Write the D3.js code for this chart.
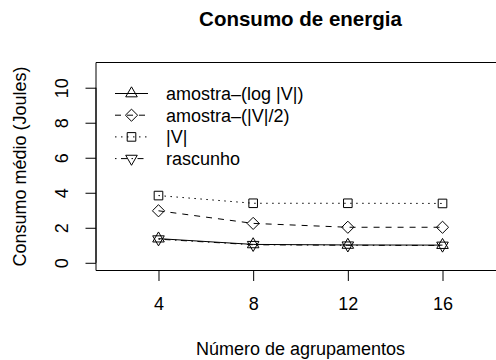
<!DOCTYPE html>
<html>
<head>
<meta charset="utf-8">
<script src="https://cdn.jsdelivr.net/npm/d3@7"></script>
<style>
  html, body { margin: 0; padding: 0; background: #fff; }
  svg { display: block; }
  text { font-family: "Liberation Sans", Arial, sans-serif; fill: #000; }
</style>
</head>
<body>
<svg id="chart" width="496" height="360"></svg>
<script>
// ---- data ----
const categories = [4, 8, 12, 16];
const seriesNames = ["amostra\u2013(log |V|)", "amostra\u2013(|V|/2)", "|V|", "rascunho"];
const serieLog = [1.38, 1.05, 1.02, 1.01];
const serieMetade = [2.97, 2.25, 2.03, 2.03];
const serieV = [3.84, 3.40, 3.40, 3.39];
const serieRascunho = [1.35, 1.03, 1.00, 0.99];
const xTicks = [4, 8, 12, 16];
const yTicks = [0, 2, 4, 6, 8, 10];
const title = "Consumo de energia";
const xLabel = "Número de agrupamentos";
const yLabel = "Consumo médio (Joules)";

const seriesValues = [serieLog, serieMetade, serieV, serieRascunho];
const dashes = [null, "6,6", "1.5,4.5", "1.5,4.5,6,4.5"];
const shapes = ["triUp", "diamond", "square", "triDown"];

const svg = d3.select("#chart");
const pLeft = 96, pTop = 62.5, pBottom = 270.5, pRight = 505;

const x = d3.scaleLinear().domain([1.36, 18.64]).range([pLeft, pRight]);
const y = d3.scaleLinear().domain([-0.44, 11.44]).range([pBottom, pTop]);

const fs = 18;
const S = 4.3; // symbol size unit

function symbolPath(shape, cx, cy) {
  if (shape === "square") {
    return `M${cx - S},${cy - S}H${cx + S}V${cy + S}H${cx - S}Z`;
  }
  if (shape === "diamond") {
    const d = Math.SQRT2 * S;
    return `M${cx},${cy - d}L${cx + d},${cy}L${cx},${cy + d}L${cx - d},${cy}Z`;
  }
  const r = 1.5551 * S, xc = 1.3468 * S, yc = 0.7776 * S;
  if (shape === "triUp") {
    return `M${cx},${cy - r}L${cx + xc},${cy + yc}L${cx - xc},${cy + yc}Z`;
  }
  return `M${cx},${cy + r}L${cx + xc},${cy - yc}L${cx - xc},${cy - yc}Z`;
}

// box (left, top, bottom; right side is outside the image)
svg.append("path")
  .attr("d", `M${pRight},${pTop}H${pLeft}V${pBottom}H${pRight}`)
  .attr("fill", "none").attr("stroke", "#000").attr("stroke-width", 1);

// x axis
const xAxis = d3.axisBottom(x).tickValues(xTicks).tickSize(10.5).tickPadding(0).tickFormat(d3.format("d"));
const gx = svg.append("g").attr("transform", `translate(0,${pBottom})`).call(xAxis);
gx.select(".domain").remove();
gx.selectAll(".tick line").attr("stroke", "#000");
gx.selectAll(".tick text").attr("font-size", fs).attr("font-family", "Liberation Sans, Arial, sans-serif")
  .attr("dy", null).attr("y", 39.5).attr("fill", "#000");

// y axis
const yAxis = d3.axisLeft(y).tickValues(yTicks).tickSize(10.5).tickPadding(0).tickFormat(d3.format("d"));
const gy = svg.append("g").attr("transform", `translate(${pLeft},0)`).call(yAxis);
gy.select(".domain").attr("d", `M0,${y(0)}V${y(10)}`).attr("stroke", "#000");
gy.selectAll(".tick line").attr("stroke", "#000");
gy.selectAll(".tick text")
  .attr("font-size", fs).attr("font-family", "Liberation Sans, Arial, sans-serif")
  .attr("x", null).attr("dy", null).attr("fill", "#000")
  .attr("text-anchor", "middle")
  .attr("transform", "translate(-28,0) rotate(-90)");

// titles
svg.append("text").attr("x", (pLeft + pRight) / 2).attr("y", 25.7)
  .attr("text-anchor", "middle").attr("font-size", 20.5).attr("font-weight", "bold").text(title);
svg.append("text").attr("x", (pLeft + pRight) / 2).attr("y", 355)
  .attr("text-anchor", "middle").attr("font-size", fs).text(xLabel);
svg.append("text").attr("transform", `translate(26,${(pTop + pBottom) / 2}) rotate(-90)`)
  .attr("text-anchor", "middle").attr("font-size", fs).text(yLabel);

// series
const line = d3.line().x((d, i) => x(categories[i])).y(d => y(d));
seriesValues.forEach((vals, k) => {
  svg.append("path").datum(vals).attr("d", line)
    .attr("fill", "none").attr("stroke", "#000").attr("stroke-width", 1)
    .attr("stroke-dasharray", dashes[k]);
  svg.append("g").selectAll("path").data(vals).join("path")
    .attr("d", (d, i) => symbolPath(shapes[k], x(categories[i]), y(d)))
    .attr("fill", "none").attr("stroke", "#000").attr("stroke-width", 1);
});

// legend
const legY0 = 93.5, legDy = 21.7;
seriesNames.forEach((name, k) => {
  const ly = legY0 + k * legDy;
  svg.append("line").attr("x1", 115).attr("x2", 148).attr("y1", ly).attr("y2", ly)
    .attr("stroke", "#000").attr("stroke-width", 1).attr("stroke-dasharray", dashes[k]);
  svg.append("path").attr("d", symbolPath(shapes[k], 131.5, ly))
    .attr("fill", "none").attr("stroke", "#000").attr("stroke-width", 1);
  svg.append("text").attr("x", 166).attr("y", ly + 6.3).attr("font-size", fs).text(name);
});
</script>
</body>
</html>
